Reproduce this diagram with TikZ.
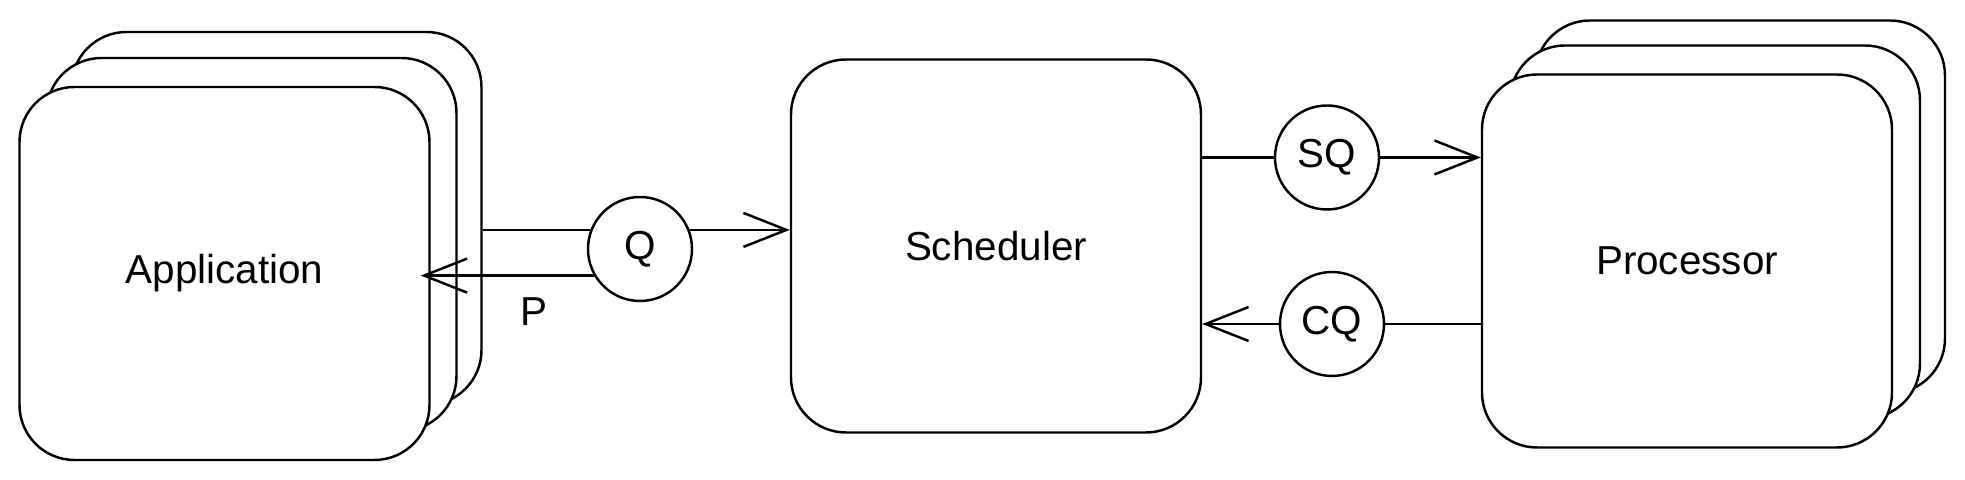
\documentclass[tikz,border=0pt]{standalone}
\usepackage{fontspec}
\setmainfont{Liberation Sans}
\usetikzlibrary{arrows.meta,positioning}

\begin{document}
\begin{tikzpicture}[node distance=3cm,on grid,line width=0.7pt,
    font=\fontsize{11.5}{14}\selectfont,
    >={Straight Barb[length=4.3mm,width=3.4mm]},
    box/.style={draw,fill=white,rounded corners=5.5mm,minimum width=4.1cm,minimum height=3.73cm},
    queue/.style={draw,circle,fill=white,minimum size=1.04cm,inner sep=0pt}]
    \useasboundingbox (0,0) rectangle (19.65,4.8);

    \node[box] (sched) at (9.96,2.34) {Scheduler};
    % stack of applications
    \node[box] (appback) [above left=0.275cm and 7.195cm of sched] {};
    \node[box] (appmid) [below left=0.26cm and 0.25cm of appback] {};
    \node[box] (app) [below left=0.29cm and 0.27cm of appmid] {Application};
    % stack of processors
    \node[box] (procback) [above right=0.39cm and 7.44cm of sched] {};
    \node[box] (procmid) [below left=0.25cm and 0.25cm of procback] {};
    \node[box] (proc) [below left=0.29cm and 0.28cm of procmid] {Processor};
    % queues
    \node[queue] (q) [below left=0.03cm and 3.56cm of sched] {Q};
    \node[queue] (sq) [above right=0.885cm and 3.31cm of sched] {SQ};
    \node[queue] (cq) [below right=0.78cm and 3.36cm of sched] {CQ};

    \path
    (q.159) edge (q.159 -| appback.east)
    (sq.west) edge (sq.west -| sched.east)
    (cq.east) edge (cq.east -| proc.west);
    \path[->]
    (q.21) edge (q.21 -| sched.west)
    (q.210) edge[shorten >=-1mm] node[pos=0.37,yshift=-3.6mm] {P} (q.210 -| app.east)
    (sq.east) edge (sq.east -| proc.west)
    (cq.west) edge (cq.west -| sched.east);

\end{tikzpicture}
\end{document}
